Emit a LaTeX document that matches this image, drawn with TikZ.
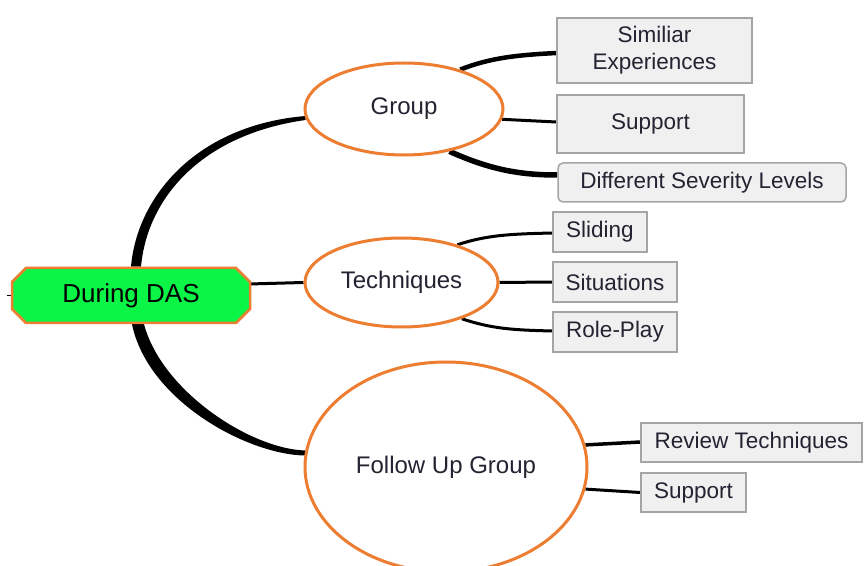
\documentclass[tikz,border=0pt]{standalone}
\usepackage{fontspec}
\setmainfont{Liberation Sans}
\usetikzlibrary{shapes.geometric,shapes.misc,calc,backgrounds}
\definecolor{orng}{RGB}{237,125,49}
\definecolor{grn}{RGB}{10,245,70}
\definecolor{boxfill}{RGB}{240,240,240}
\definecolor{boxline}{RGB}{165,165,165}
\definecolor{txt}{RGB}{35,35,50}
\tikzset{
  rootnode/.style={chamfered rectangle, chamfered rectangle xsep=7pt, chamfered rectangle ysep=7pt,
    draw=orng, line width=2.5pt, fill=grn, inner sep=0pt, text=black,
    font=\fontsize{26}{30}\selectfont},
  topic/.style={ellipse, draw=orng, line width=3pt, fill=white, inner sep=0pt, text=txt,
    font=\fontsize{24}{28}\selectfont},
  leaf/.style={rectangle, draw=boxline, line width=1.5pt, fill=boxfill, inner sep=0pt, text=txt,
    align=center, font=\fontsize{22.5}{27}\selectfont},
  conn/.style={line width=3pt, black},
}
\begin{document}
\begin{tikzpicture}[x=1pt,y=1pt]
\useasboundingbox (0,0) rectangle (864,565);
% nodes
\node[rootnode, minimum width=238pt, minimum height=55pt] (c) at (131,269.5) {During DAS};
\node[topic, minimum width=198pt, minimum height=92pt] (g) at (404,456) {Group};
\node[topic, minimum width=193pt, minimum height=89pt] (t) at (401.5,282.5) {Techniques};
\node[topic, minimum width=282pt, minimum height=210pt] (f) at (446,98) {Follow Up Group};
\node[leaf, minimum width=195pt, minimum height=65pt] (se) at (654.5,514.5) {Similiar\\Experiences};
\node[leaf, minimum width=187pt, minimum height=58pt] (s1) at (650.5,441) {Support};
\node[leaf, rounded corners=5pt, minimum width=288pt, minimum height=39pt] (dsl) at (702,382.5) {Different Severity Levels};
\node[leaf, minimum width=94pt, minimum height=40pt] (sl) at (600,333) {Sliding};
\node[leaf, minimum width=124pt, minimum height=40pt] (si) at (615,283) {Situations};
\node[leaf, minimum width=124pt, minimum height=40pt] (rp) at (615,233) {Role-Play};
\node[leaf, minimum width=221pt, minimum height=39pt] (rt) at (751.5,122.5) {Review Techniques};
\node[leaf, minimum width=105pt, minimum height=39pt] (s2) at (693.5,72.5) {Support};
\coordinate (stub) at ($(c.west)+(-4,0)$);
% connectors
\begin{pgfonlayer}{background}
\fill[black] (c.north) .. controls +(6,71) and +(-108,-9) .. ($(g.west)+(2,-7)$)
  -- ($(g.west)+(2,-11)$) .. controls +(-106,-15) and +(6,67) .. ($(c.north)+(10,0)$) -- cycle;
\fill[black] ($(c.south)+(1,0)$) .. controls +(16,-77) and +(-57,0.5) .. ($(f.west)+(2,11.5)$)
  -- ($(f.west)+(2,16.5)$) .. controls +(-55,1.5) and +(18,-67) .. ($(c.south)+(13,0)$) -- cycle;
\draw[conn] ($(c.east)+(-2,11.5)$) -- (t.west);
\draw[line width=1.2pt] (c.west) -- (stub);
\draw[conn, line width=4.5pt] (g.35) .. controls +(30,12) and +(-38,-2) .. ($(se.west)+(0,-2.5)$);
\draw[conn] (g.-6) -- ($(s1.west)+(0,2)$);
\draw[conn, line width=5.5pt] (g.-43) .. controls +(40,-18) and +(-38,0) .. ($(dsl.west)+(0,7.5)$);
\draw[conn] (t.34) .. controls +(30,10) and +(-40,-1) .. ($(sl.west)+(0,-1)$);
\draw[conn] (t.east) -- (si.west);
\draw[conn] (t.-31) .. controls +(30,-10) and +(-40,1) .. ($(rp.west)+(0,1)$);
\draw[conn, line width=3.5pt] (f.9) -- ($(rt.west)+(0,0.5)$);
\draw[conn] (f.-9) -- (s2.west);
\end{pgfonlayer}
\end{tikzpicture}
\end{document}
